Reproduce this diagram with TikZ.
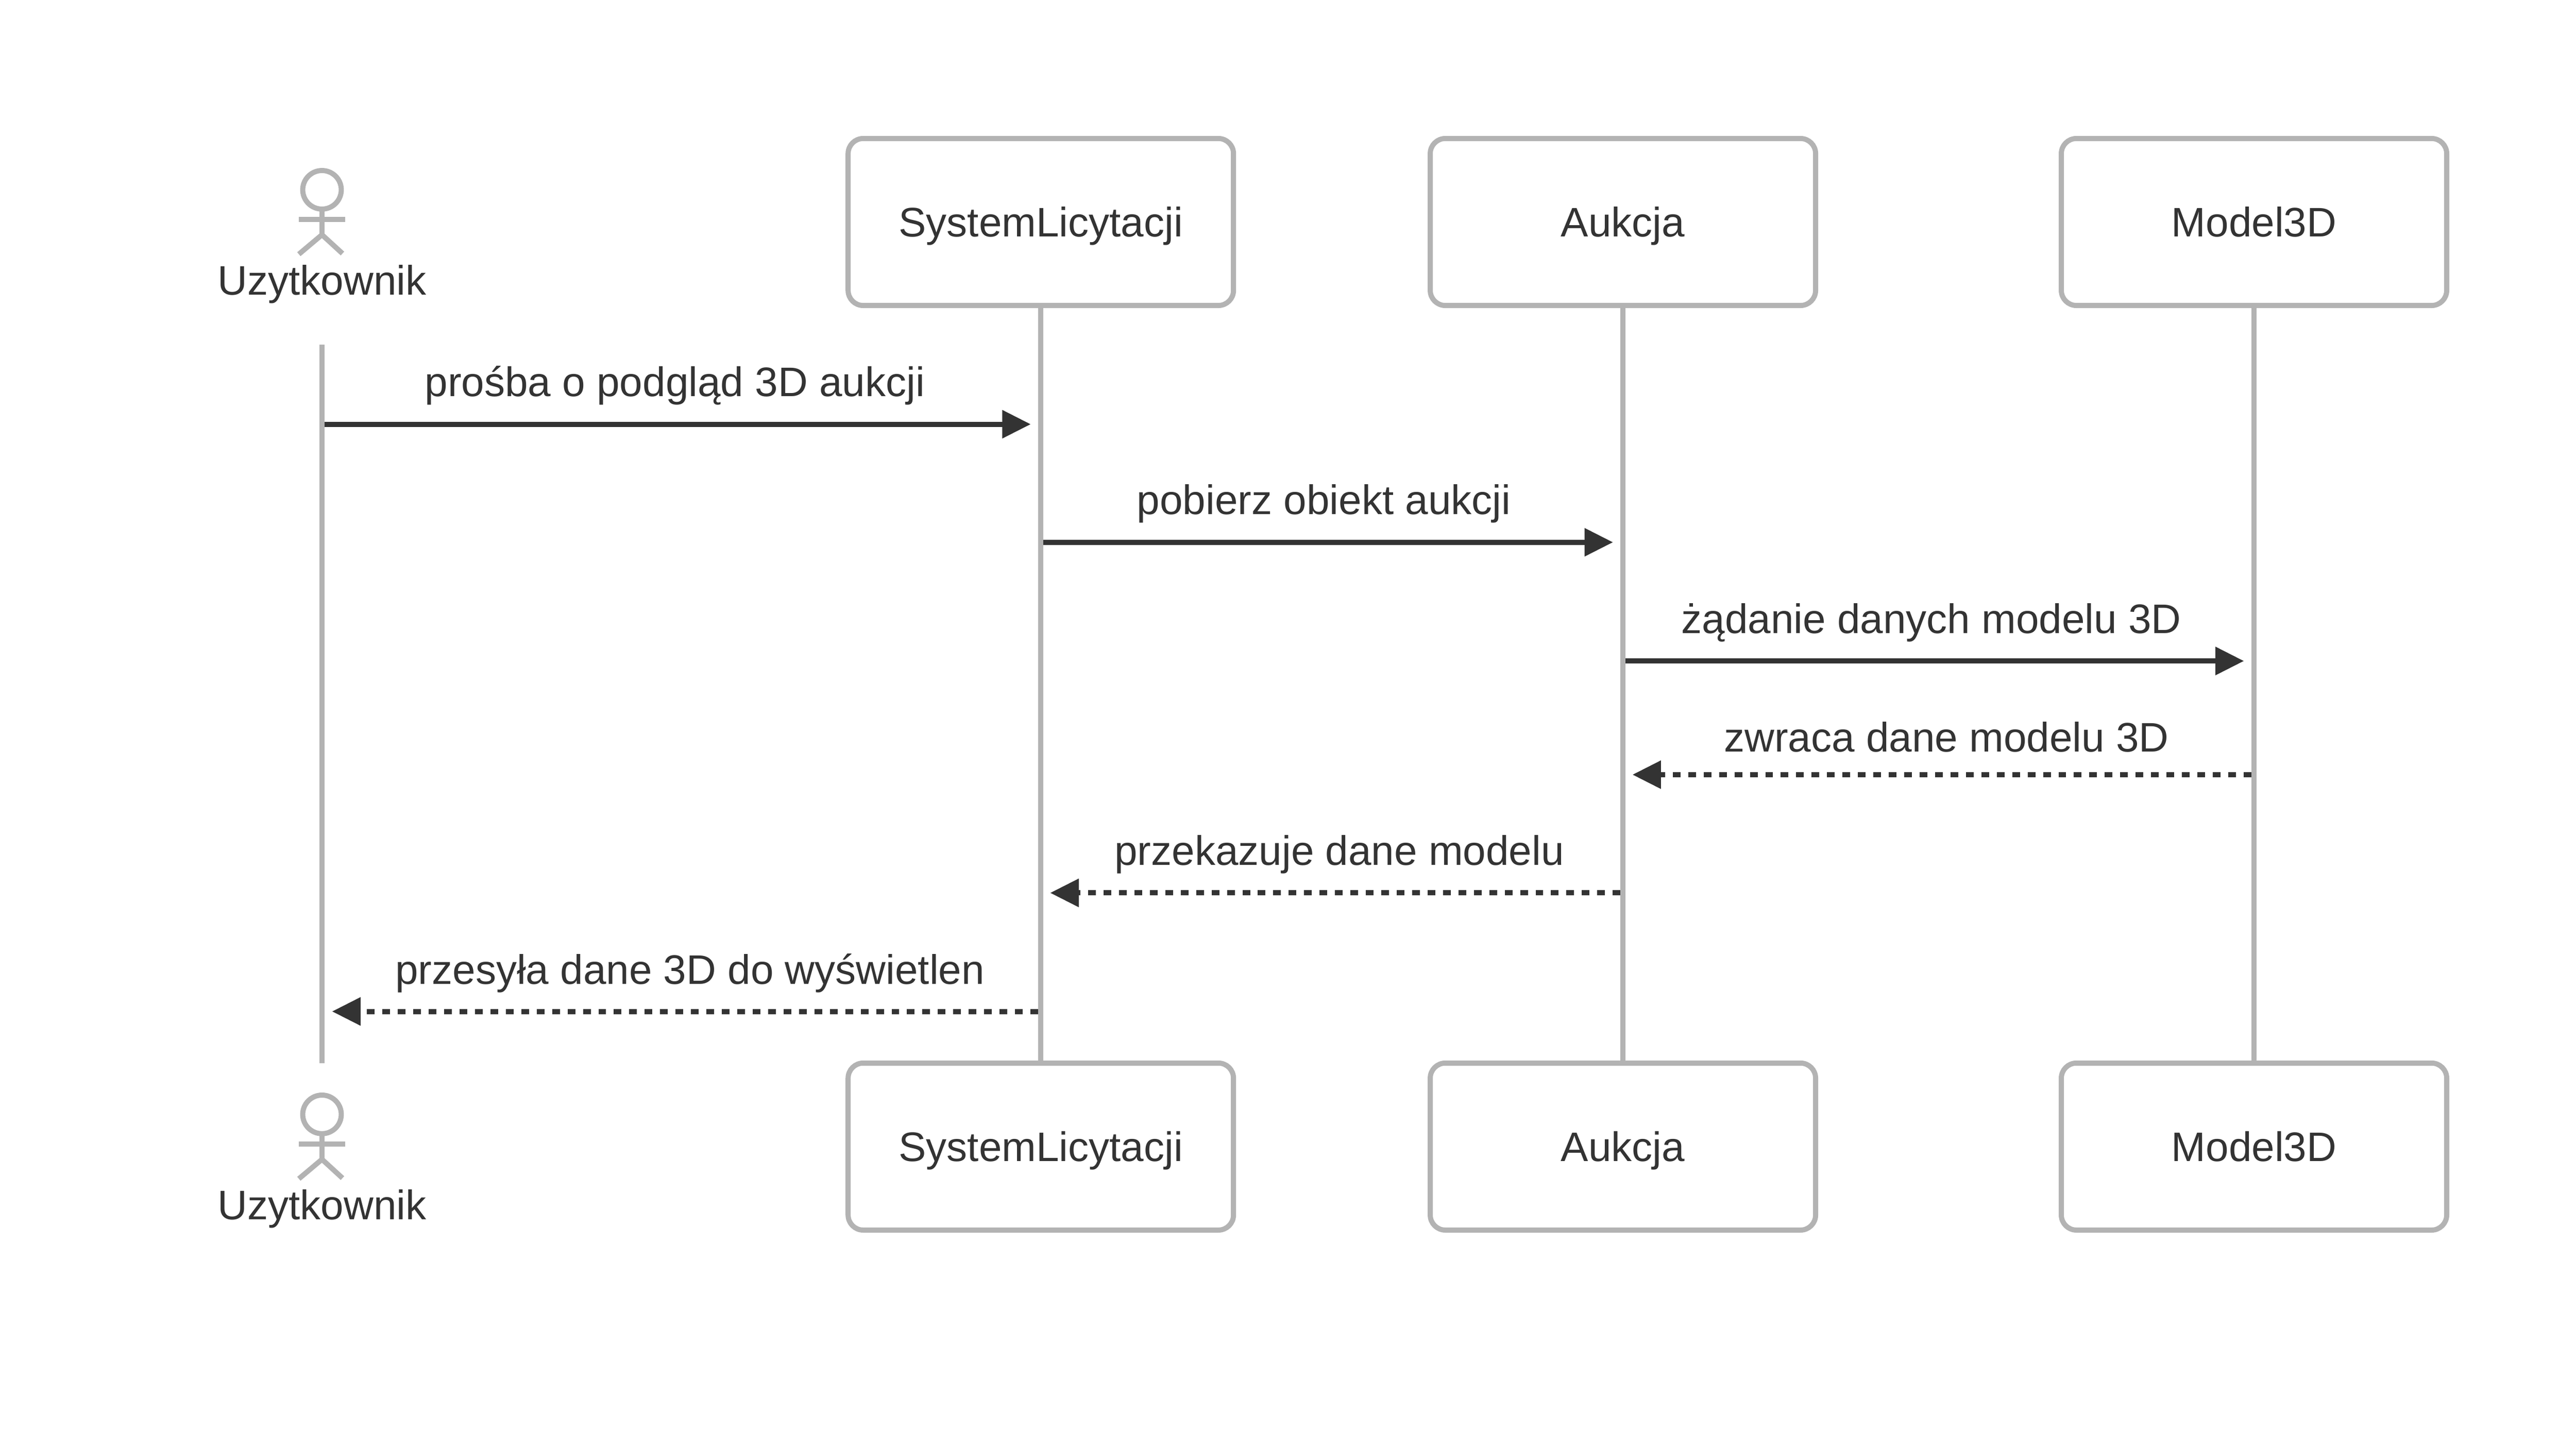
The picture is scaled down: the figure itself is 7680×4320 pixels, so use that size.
\documentclass[tikz,border=0pt]{standalone}
\usepackage{fontspec}
\setmainfont{Liberation Sans}
\usetikzlibrary{arrows.meta}
\definecolor{lifegray}{HTML}{B3B3B3}
\definecolor{inkgray}{HTML}{333333}

\begin{document}
\begin{tikzpicture}[x = 0.1pt, y = -0.1pt, line width = 1.53pt,
	every node/.style = {text = inkgray, font = \fontsize{12.3pt}{14pt}\selectfont, inner sep = 0pt, outer sep = 0pt},
	actorbox/.style = {draw = lifegray, rounded corners = 4.5pt, minimum width = 114.9pt, minimum height = 49.8pt, text height = 10.1pt, text depth = 1.4pt},
	actorhead/.style = {draw = lifegray, circle, minimum size = 11.5pt},
	actorname/.style = {anchor = base},
	msglabel/.style = {anchor = base},
	lifeline/.style = {draw = lifegray},
	stick/.style = {draw = lifegray},
	call/.style = {draw = inkgray, -{Triangle[length = 8.5pt, width = 8.1pt]}},
	reply/.style = {call, dash pattern = on 2.3pt off 2.3pt}]
		\useasboundingbox (0,0) rectangle (7680,4320);
		\node[actorbox] (sysTop) at (3103,662) {SystemLicytacji};
		\node[actorbox] (aukTop) at (4838.5,662) {Aukcja};
		\node[actorbox] (modTop) at (6720,662) {Model3D};
		\node[actorbox] (sysBot) at (3103,3419) {SystemLicytacji};
		\node[actorbox] (aukBot) at (4838.5,3419) {Aukcja};
		\node[actorbox] (modBot) at (6720,3419) {Model3D};
		\coordinate (userTop) at (960,1027);
		\coordinate (userBot) at (960,3170);
		\draw[lifeline] (userTop) -- (userBot);
		\draw[lifeline] (sysTop) -- (sysBot);
		\draw[lifeline] (aukTop) -- (aukBot);
		\draw[lifeline] (modTop) -- (modBot);

		% stick figures
		\foreach \name/\dy in {a/0, b/2757} {
			\node[actorhead] (head\name) at (960,566+\dy) {};
			\coordinate (hip\name) at (960,700+\dy);
			\coordinate (armL\name) at (891,654.5+\dy);
			\coordinate (armR\name) at (1029,654.5+\dy);
			\coordinate (footL\name) at (891,758+\dy);
			\coordinate (footR\name) at (1021,756+\dy);
			\draw[stick] (head\name) -- (hip\name);
			\draw[stick] (armL\name) -- (armR\name);
			\draw[stick] (footL\name) -- (hip\name) -- (footR\name);
		}
		\node[actorname] (userNameTop) at (960,879) {Uzytkownik};
		\node[actorname] (userNameBot) at (960,3636) {Uzytkownik};

		% messages
		\coordinate (m1a) at (967,1265);
		\coordinate (m1b) at (3073,1265);
		\coordinate (m2a) at (3110,1617);
		\coordinate (m2b) at (4809,1617);
		\coordinate (m3a) at (4846,1971);
		\coordinate (m3b) at (6690,1971);
		\coordinate (m4a) at (6712,2310);
		\coordinate (m4b) at (4867,2310);
		\coordinate (m5a) at (4831,2662.5);
		\coordinate (m5b) at (3131,2662.5);
		\coordinate (m6a) at (3095,3016);
		\coordinate (m6b) at (990,3016);
		\draw[call] (m1a) -- (m1b);
		\draw[call] (m2a) -- (m2b);
		\draw[call] (m3a) -- (m3b);
		\draw[reply] (m4a) -- (m4b);
		\draw[reply] (m5a) -- (m5b);
		\draw[reply] (m6a) -- (m6b);
		\node[msglabel] (t1) at (2012,1182) {prośba o podgląd 3D aukcji};
		\node[msglabel] (t2) at (3947,1534) {pobierz obiekt aukcji};
		\node[msglabel] (t3) at (5758,1888) {żądanie danych modelu 3D};
		\node[msglabel] (t4) at (5803,2242) {zwraca dane modelu 3D};
		\node[msglabel] (t5) at (3993,2580) {przekazuje dane modelu};
		\node[msglabel] (t6) at (2057,2934) {przesyła dane 3D do wyświetlen};
\end{tikzpicture}
\end{document}
